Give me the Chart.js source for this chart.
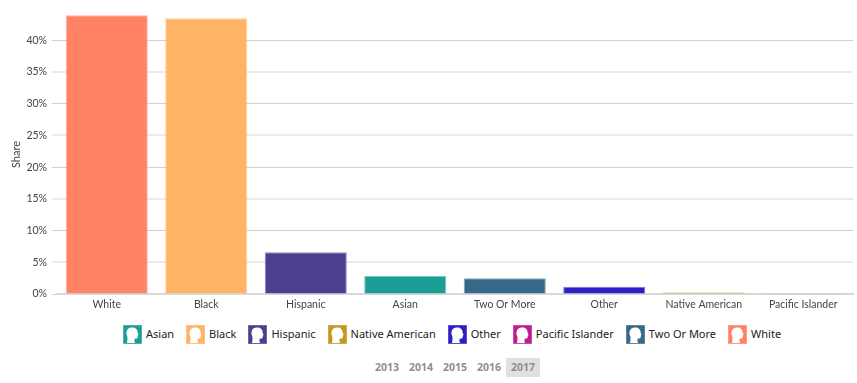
<!DOCTYPE html>
<html>
<head>
<meta charset="utf-8">
<script src="https://cdn.jsdelivr.net/npm/chart.js@4"></script>
<style>
    html, body { margin: 0; padding: 0; background: #fff; width: 857px; height: 383px; overflow: hidden; }
    #wrap { position: relative; width: 857px; height: 320px; }
    #legend { position: absolute; top: 325px; left: 123px; white-space: nowrap; font: 11px "Noto Sans", sans-serif; color: #222; }
    #legend span.item { display: inline-block; margin-right: 12px; line-height: 18px; }
    #legend svg { vertical-align: top; margin-right: 4px; }
    #years { position: absolute; top: 358px; left: 370px; font: bold 10.5px "Noto Sans", sans-serif; color: #8f8f8f; }
    #years span { display: inline-block; width: 34px; height: 19px; line-height: 19px; text-align: center; }
    #years span.on { background: #e0e0e0; }
</style>
</head>
<body>
<div id="wrap"><canvas id="chart" width="857" height="320"></canvas></div>
<div id="legend"></div>
<div id="years"></div>
<script>
// chart data
const categories = ['White', 'Black', 'Hispanic', 'Asian', 'Two Or More', 'Other', 'Native American', 'Pacific Islander'];
const shares = [43.95, 43.5, 6.6, 2.85, 2.5, 1.15, 0.25, 0.02];
const barColors = ['#ff8264', '#ffb365', '#4b3f8f', '#1a9e96', '#36688a', '#2e1fc4', '#c2981f', '#c01a90'];

const legendNames = ['Asian', 'Black', 'Hispanic', 'Native American', 'Other', 'Pacific Islander', 'Two Or More', 'White'];
const legendColors = ['#1a9e96', '#ffb365', '#4b3f8f', '#c2981f', '#2e1fc4', '#c01a90', '#36688a', '#ff8264'];

const years = ['2013', '2014', '2015', '2016', '2017'];
const activeYear = '2017';

// the reference grid lines land on half pixels on some ticks, those look wider and paler
const paleTicks = [5, 15, 25, 35];

new Chart(document.getElementById('chart'), {
    type: 'bar',
    data: {
        labels: categories,
        datasets: [{
            data: shares,
            backgroundColor: barColors,
            // very thin bars keep a solid edge, a pale one would wash them out
            borderColor: barColors.map((c, i) => shares[i] < 1 ? c : c + '99'),
            borderWidth: 1,
            barPercentage: 0.825,
            categoryPercentage: 1
        }]
    },
    options: {
        responsive: false,
        animation: false,
        layout: { padding: { top: 15, right: 4, left: 0, bottom: 0 } },
        plugins: { legend: { display: false }, tooltip: { enabled: false } },
        scales: {
            x: {
                afterFit: s => { s.height = 26; },
                grid: { display: false, drawTicks: false },
                border: { color: '#d8d8d8', width: 2 },
                ticks: { color: '#444', font: { family: 'Lato', size: 10.5 }, padding: 4, maxRotation: 0, autoSkip: false }
            },
            y: {
                min: 0,
                max: 44,
                afterFit: s => { s.width = 57; },
                afterBuildTicks: s => { s.ticks = s.ticks.filter(t => t.value % 5 === 0); },
                title: { display: true, text: 'Share', color: '#444', font: { family: 'Lato', size: 11 }, padding: { top: 10, bottom: 0 } },
                border: { display: false },
                grid: {
                    color: c => paleTicks.includes(c.tick.value) ? '#ebebeb' : '#d0d0d0',
                    lineWidth: c => paleTicks.includes(c.tick.value) ? 2 : 1,
                    tickLength: 5
                },
                ticks: { stepSize: 5, color: '#444', font: { family: 'Lato', size: 10.5 }, padding: 5, callback: v => v + '%' }
            }
        }
    }
});

// legend with the head icons
const headPath = 'M4 18 C4.6 14 4.8 12.5 4 10.8 C2.8 8 3.2 2.8 8.8 2.4 C12.4 2.2 14.6 4.4 14.6 7.2 C14.6 8 15.5 9.3 15.6 9.8 C15.6 10.3 14.8 10.3 14.8 10.8 C14.8 11.6 14.8 12.6 14.3 13.2 C13.6 13.8 12.2 13.4 11.6 13.8 C11.2 14.6 11.6 16.6 12 18 Z';
document.getElementById('legend').innerHTML = legendNames.map((name, i) =>
    `<span class="item"><svg width="19" height="19" viewBox="0 0 19 19"><rect x="0.5" y="0.5" width="18" height="18" fill="${legendColors[i]}" stroke="${legendColors[i]}" stroke-opacity="0.6" stroke-width="1"/><path d="${headPath}" fill="#fff"/></svg>${name}</span>`
).join('');

document.getElementById('years').innerHTML = years.map(y =>
    `<span class="${y === activeYear ? 'on' : ''}">${y}</span>`
).join('');
</script>
</body>
</html>
